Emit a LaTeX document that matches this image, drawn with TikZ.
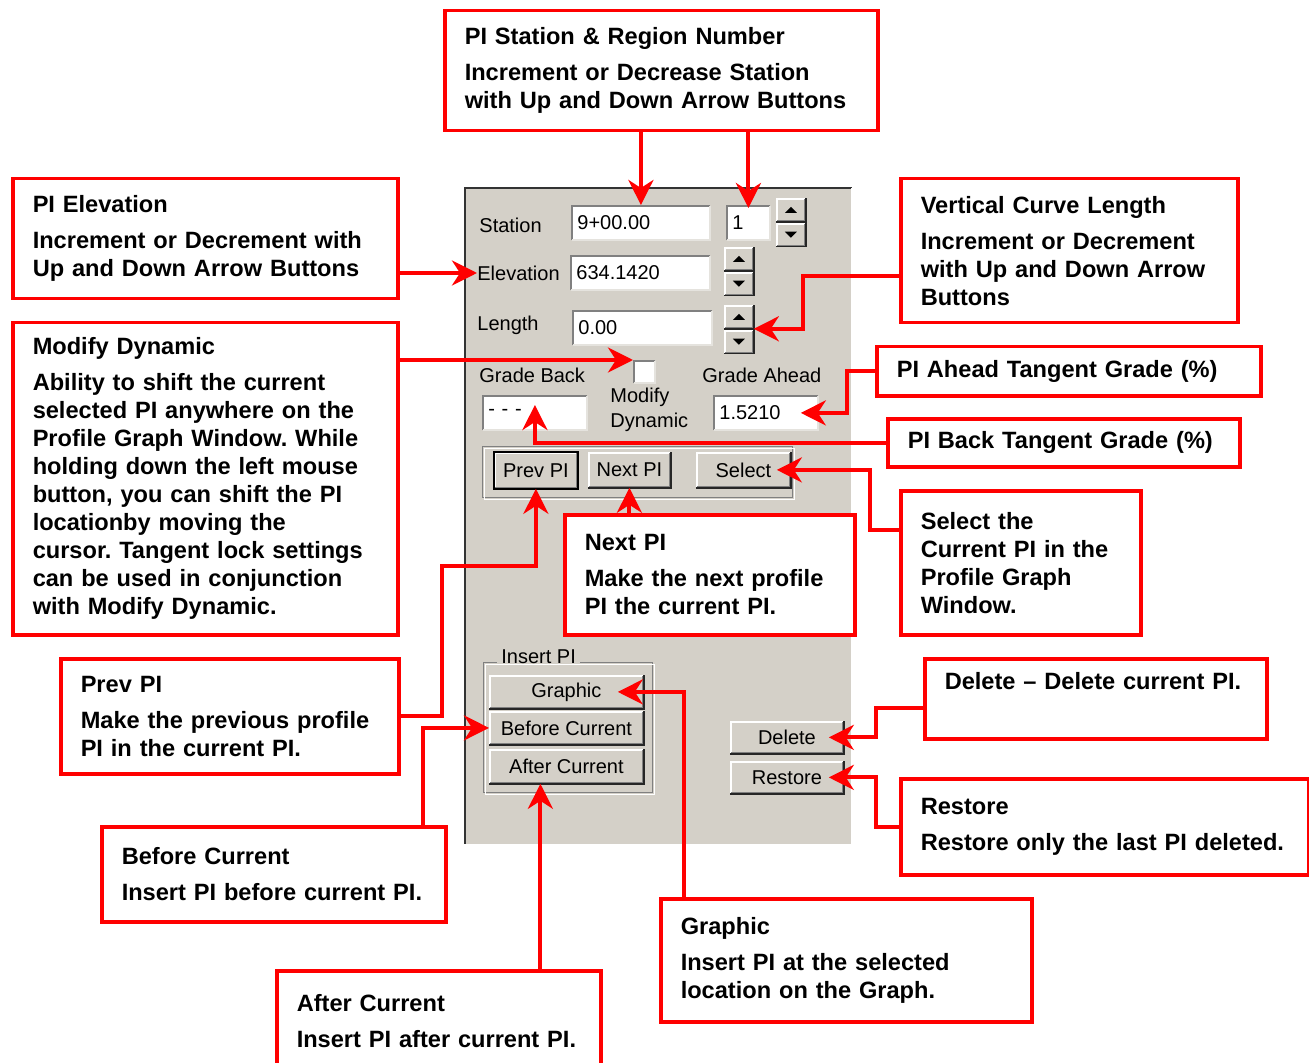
\documentclass[tikz,border=0pt]{standalone}
\usepackage{fontspec}
\setmainfont{Liberation Sans}
\usetikzlibrary{arrows.meta,positioning}
\definecolor{panel}{HTML}{D4D0C8}
\definecolor{winshadow}{HTML}{808080}
\definecolor{callred}{HTML}{FF0000}
\frenchspacing

\begin{document}
\begin{tikzpicture}[x=0.5pt,y=-0.5pt,
callout/.style={draw=callred, line width=1.75pt, fill=white, anchor=north west, align=left, inner xsep=10pt, inner ysep=0pt, font=\bfseries\fontsize{11.8}{14}\selectfont},
lead/.style={draw=callred, line width=2pt, -{Stealth[length=12.5pt,width=12.5pt,inset=4pt]}},
dlgtext/.style={font=\fontsize{10}{12.5}\selectfont, inner sep=0pt},
field/.style={dlgtext, fill=white, anchor=north west, align=left, inner xsep=3pt, minimum height=17.5pt, text width=#1},
btn/.style={dlgtext, fill=panel, anchor=north west}]

\fill[white] (0,0) rectangle (1309,1063);
\useasboundingbox (0,0) rectangle (1309,1063);

% dialog panel
\fill[panel] (464,187) rectangle (852,845);
\draw[black!80, line width=1.25pt] (465,845) -- (465,188) -- (852,188);
\draw[white, line width=1pt] (852,188) -- (852,845) -- (464,845);

\node (stlabel) at (479,225)[dlgtext, anchor=west]{Station};
\node (ellabel) at (477,273)[dlgtext, anchor=west]{Elevation};
\node (lnlabel) at (477,325)[dlgtext, anchor=west]{Length};
\node (gblabel) at (479,375)[dlgtext, anchor=west]{Grade Back};
\node (galabel) at (702,375)[dlgtext, anchor=west]{Grade Ahead};
\node (modlabel) at (610,388)[dlgtext, anchor=north west, align=left]{Modify\\Dynamic};

\node (stfield) at (571,205)[field=63.5pt]{9+00.00};
\node (regfield) at (726,205)[field=16pt]{1};
\node (elfield) at (570,255)[field=64pt]{634.1420};
\node (lnfield) at (572,310)[field=64pt]{0.00};
\node (gbfield) at (482,395)[field=46.5pt]{- - -};
\node (gafield) at (713,395)[field=46.5pt]{1.5210};
\node (chk) at (633,360)[field=5pt, minimum height=11.5pt]{};

\foreach \s/\x/\y in {st/776/198, el/724/247, ln/724/305}
{
\node (\s-up) at (\x,\y)[btn, minimum width=14.5pt, minimum height=11.5pt]{};
\node (\s-dn) [btn, minimum width=14.5pt, minimum height=11.5pt, below=0.5pt of \s-up]{};
\fill ([yshift=1.5pt]\s-up.center) -- ++(-3pt,-3pt) -- ++(6pt,0pt) -- cycle;
\fill ([yshift=-1.5pt]\s-dn.center) -- ++(-3pt,3pt) -- ++(6pt,0pt) -- cycle;
}

\draw[winshadow] (482,446) rectangle (792,497);
\draw[white] (484,448) rectangle (794,499);
\node (prevbtn) at (494,452)[btn, minimum width=41.5pt, minimum height=18pt]{Prev PI};
\node (nextbtn) at (588,452)[btn, minimum width=41pt, minimum height=17.5pt]{Next PI};
\node (selbtn) at (696,452)[btn, minimum width=47pt, minimum height=17.5pt]{Select};

\draw[winshadow] (483,662) rectangle (652,792);
\draw[white] (485,664) rectangle (654,794);
\node (inslabel) at (497,657)[dlgtext, fill=panel, inner xsep=2pt, anchor=west]{Insert PI};
\node (grbtn) at (489,675)[btn, minimum width=77pt, minimum height=16.5pt]{Graphic};
\node (bcbtn) at (489,711)[btn, minimum width=77pt, minimum height=16.5pt]{Before Current};
\node (acbtn) at (489,749)[btn, minimum width=77pt, minimum height=17pt]{After Current};
\node (delbtn) at (730,721)[btn, minimum width=56.5pt, minimum height=16pt]{Delete};
\node (resbtn) at (730,761)[btn, minimum width=56.5pt, minimum height=16pt]{Restore};

% sunken fields, raised buttons
\foreach \n in {stfield,regfield,elfield,lnfield,gbfield,gafield,chk}
{
\draw[winshadow, line width=1pt] ([shift={(0.5pt,0.5pt)}]\n.south west) |- ([shift={(-0.5pt,-0.5pt)}]\n.north east);
\draw[panel!60!white, line width=1pt] ([shift={(0.5pt,0.5pt)}]\n.south west) -| ([shift={(-0.5pt,-0.5pt)}]\n.north east);
}
\foreach \n in {st-up,st-dn,el-up,el-dn,ln-up,ln-dn,prevbtn,nextbtn,selbtn,grbtn,bcbtn,acbtn,delbtn,resbtn}
{
\draw[white, line width=1pt] ([shift={(0.5pt,0.5pt)}]\n.south west) |- ([shift={(-0.5pt,-0.5pt)}]\n.north east);
\draw[winshadow, line width=1pt] ([shift={(0.5pt,0.5pt)}]\n.south west) -| ([shift={(-0.5pt,-0.5pt)}]\n.north east);
\draw[black!85, line width=0.75pt] (\n.south west) -| (\n.north east);
}
\draw[black, line width=0.75pt] (prevbtn.south west) rectangle (prevbtn.north east);

% callouts
\node (stbox) at (443,9)[callout, text width=196.5pt, minimum height=60pt]{PI Station \& Region Number\\[4pt]Increment or Decrease Station\\with Up and Down Arrow Buttons};
\node (elbox) at (11,177)[callout, text width=172.5pt, minimum height=60pt]{PI Elevation\\[4pt]Increment or Decrement with\\Up and Down Arrow Buttons};
\node (modbox) at (11,321)[callout, text width=172.5pt, minimum height=156pt]{Modify Dynamic\\[4pt]Ability to shift the current\\selected PI anywhere on the\\Profile Graph Window. While\\holding down the left mouse\\button, you can shift the PI\\locationby moving the\\cursor. Tangent lock settings\\can be used in conjunction\\with Modify Dynamic.};
\node (prevbox) at (59,657)[callout, text width=149pt, minimum height=57.5pt]{Prev PI\\[4pt]Make the previous profile\\PI in the current PI.};
\node (bcbox) at (100,825)[callout, text width=152pt, minimum height=47.5pt]{Before Current\\[4pt]Insert PI before current PI.};
\node (acbox) at (275,969)[callout, text width=142pt, minimum height=50pt]{After Current\\[4pt]Insert PI after current PI.};
\node (grbox) at (659,897)[callout, text width=165.5pt, minimum height=61.5pt]{Graphic\\[4pt]Insert PI at the selected\\location on the Graph.};
\node (nextbox) at (563,513)[callout, text width=125pt, minimum height=60pt]{Next PI\\[4pt]Make the next profile\\PI the current PI.};
\node (selbox) at (899,489)[callout, text width=100pt, minimum height=72pt]{Select the\\Current PI in the\\Profile Graph\\Window.};
\node (vcbox) at (899,177)[callout, text width=148.5pt, minimum height=72pt]{Vertical Curve Length\\[4pt]Increment or Decrement\\with Up and Down Arrow\\Buttons};
\node (delbox) at (923,657)[callout, text width=151pt, minimum height=40pt]{Delete – Delete current PI.\\ \strut};
\node (resbox) at (899,777)[callout, text width=184pt, minimum height=48pt]{Restore\\[4pt]Restore only the last PI deleted.};
\node (ahbox) at (875,345)[callout, text width=172pt, minimum height=24.5pt]{PI Ahead Tangent Grade (\%)};
\node (bkbox) at (886,417)[callout, text width=156pt, minimum height=24pt]{PI Back Tangent Grade (\%)};

\coordinate (acpt) at ([xshift=-13pt]acbtn.south);

\draw[lead] (stfield.north |- stbox.south) -- (stfield.north);
\draw[lead] (regfield.north |- stbox.south) -- ([yshift=-1.5pt]regfield.north);
\draw[lead] (elbox.east |- ellabel.west) -- (ellabel.west);
\draw[lead] (modbox.east |- chk.north west) -- (chk.north west);
\draw[lead] ([yshift=-12.5pt]vcbox.west) -- ++(-96,0) |- (ln-up.south east);
\draw[lead] (ahbox.west) -- ++(-28,0) |- ([xshift=-9pt]gafield.east);
\draw[lead] (bkbox.west) -| ([yshift=-5pt]gbfield.north);
\draw[lead] ([yshift=16.5pt]selbox.west) -- ++(-29,0) |- ([xshift=-7pt]selbtn.east);
\draw[lead] (nextbtn.south |- nextbox.north) -- (nextbtn.south);
\draw[lead] (prevbox.east) -- ++(41,0) -- ++(0,-150) -| (prevbtn.south);
\draw[lead] ([xshift=74.5pt]bcbox.north) |- (bcbtn.west);
\draw[lead] (acpt |- acbox.north) -- (acpt);
\draw[lead] ([xshift=12.5pt]grbox.north west) |- ([xshift=-13pt]grbtn.east);
\draw[lead] ([yshift=-4.5pt]delbox.west) -- ++(-47,0) |- ([xshift=-7.5pt]delbtn.east);
\draw[lead] (resbox.west) -- ++(-23,0) |- ([xshift=-7.5pt]resbtn.east);

\end{tikzpicture}
\end{document}
